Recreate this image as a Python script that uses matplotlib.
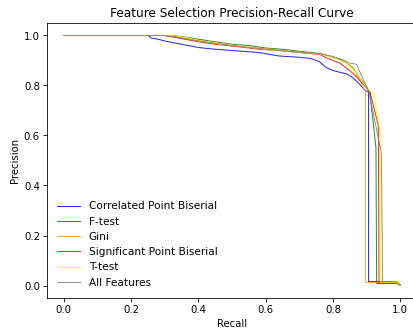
import matplotlib
matplotlib.use("Agg")
import matplotlib.pyplot as plt

# precision-recall points
cpb_recall = [0.0, 0.25, 0.26, 0.28, 0.31, 0.35, 0.40, 0.45, 0.50, 0.58, 0.64, 0.70, 0.735, 0.76, 0.78, 0.80,
              0.82, 0.84, 0.855, 0.87, 0.885, 0.895, 0.906, 0.906, 0.985, 1.0]
cpb_prec = [1.0, 1.0, 0.99, 0.985, 0.975, 0.965, 0.952, 0.945, 0.94, 0.932, 0.918, 0.913, 0.908, 0.895, 0.872, 0.86,
            0.853, 0.847, 0.835, 0.818, 0.797, 0.78, 0.775, 0.016, 0.014, 0.003]

ftest_recall = [0.0, 0.32, 0.35, 0.40, 0.45, 0.50, 0.55, 0.60, 0.65, 0.70, 0.76, 0.80, 0.83, 0.86, 0.88, 0.90,
                0.91, 0.928, 0.93, 0.99, 1.0]
ftest_prec = [1.0, 1.0, 0.996, 0.985, 0.975, 0.965, 0.96, 0.95, 0.945, 0.937, 0.928, 0.915, 0.902, 0.87, 0.83, 0.795,
              0.77, 0.55, 0.008, 0.008, 0.0]

gini_recall = [0.0, 0.30, 0.33, 0.38, 0.45, 0.50, 0.56, 0.62, 0.68, 0.72, 0.77, 0.80, 0.83, 0.86, 0.88, 0.893,
               0.897, 0.897, 0.985, 1.0]
gini_prec = [1.0, 1.0, 0.996, 0.985, 0.97, 0.96, 0.952, 0.945, 0.935, 0.93, 0.925, 0.915, 0.9, 0.87, 0.82, 0.785,
             0.775, 0.012, 0.012, 0.002]

spb_recall = [0.0, 0.30, 0.34, 0.40, 0.45, 0.52, 0.58, 0.64, 0.70, 0.76, 0.79, 0.82, 0.85, 0.87, 0.89, 0.91,
              0.935, 0.937, 0.99, 1.0]
spb_prec = [1.0, 1.0, 0.99, 0.975, 0.965, 0.955, 0.945, 0.94, 0.932, 0.925, 0.905, 0.89, 0.86, 0.835, 0.805, 0.775,
            0.64, 0.01, 0.01, 0.0]

ttest_recall = [0.0, 0.32, 0.36, 0.40, 0.46, 0.52, 0.58, 0.64, 0.70, 0.76, 0.80, 0.84, 0.87, 0.89, 0.905, 0.922,
                0.94, 0.942, 0.99, 1.0]
ttest_prec = [1.0, 1.0, 0.993, 0.98, 0.968, 0.958, 0.948, 0.94, 0.933, 0.927, 0.912, 0.89, 0.85, 0.81, 0.785, 0.765,
              0.62, 0.012, 0.012, 0.0]

all_recall = [0.0, 0.30, 0.33, 0.38, 0.45, 0.52, 0.58, 0.64, 0.70, 0.76, 0.80, 0.83, 0.85, 0.87, 0.88, 0.895,
              0.907, 0.944, 0.948, 0.99, 1.0]
all_prec = [1.0, 1.0, 0.995, 0.983, 0.968, 0.957, 0.948, 0.94, 0.933, 0.928, 0.915, 0.90, 0.89, 0.885, 0.855, 0.81,
            0.775, 0.53, 0.015, 0.015, 0.002]

labels = ["Correlated Point Biserial", "F-test", "Gini", "Significant Point Biserial", "T-test", "All Features"]
colors = ["blue", "green", "orange", "red", "yellow", "gray"]
curves = [(cpb_recall, cpb_prec), (ftest_recall, ftest_prec), (gini_recall, gini_prec),
          (spb_recall, spb_prec), (ttest_recall, ttest_prec), (all_recall, all_prec)]

DPI = 73
fig = plt.figure(figsize=(414 / DPI, 332 / DPI), dpi=DPI)
# right edge of the axes sits just outside the picture, like the reference crop
ax = fig.add_axes([47 / 414, 34 / 332, 370 / 414, 275 / 332])

for (r, p), lab, col in zip(curves, labels, colors):
    ax.plot(r, p, color=col, lw=1, alpha=0.85, label=lab)

ax.set_xlim(-0.05, 1.05)
ax.set_ylim(-0.05, 1.05)
ax.set_xticks([0.0, 0.2, 0.4, 0.6, 0.8, 1.0])
ax.set_yticks([0.0, 0.2, 0.4, 0.6, 0.8, 1.0])
ax.set_xlabel("Recall")
ax.set_ylabel("Precision")
ax.set_title("Feature Selection Precision-Recall Curve")
ax.legend(loc="lower left", frameon=False, handlelength=2.2, borderaxespad=0.6,
          prop={"size": 10.3})

fig.savefig("out.png", dpi=DPI)
